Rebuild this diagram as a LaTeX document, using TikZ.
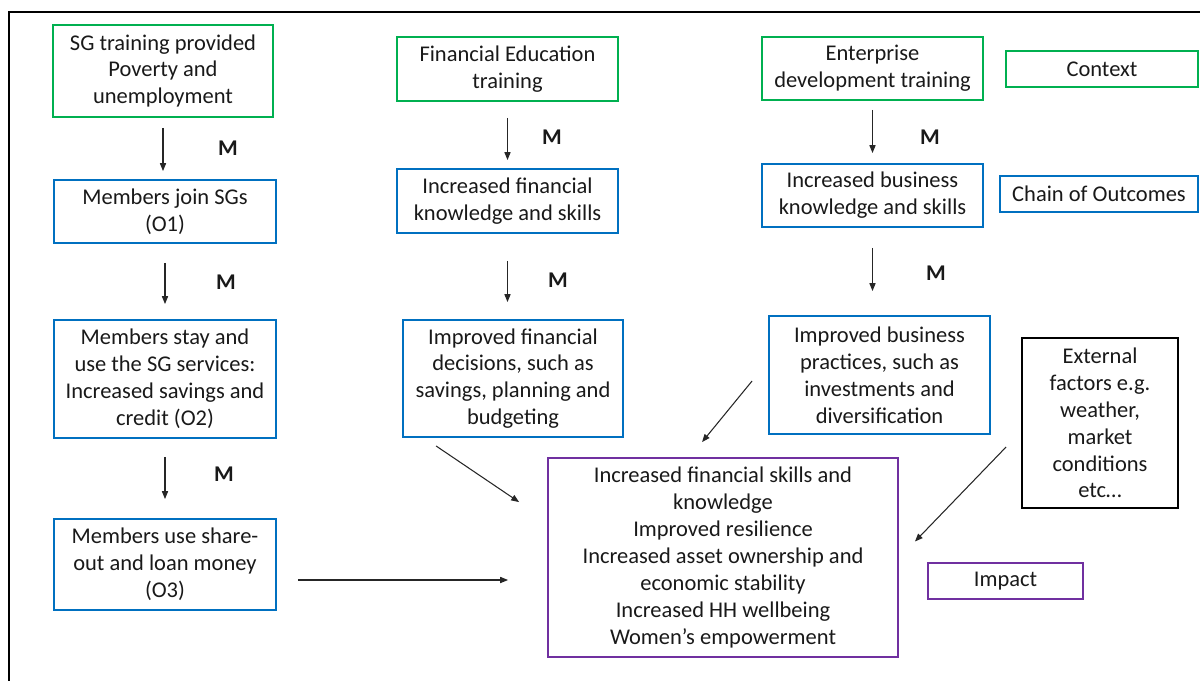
\documentclass[tikz,border=0pt]{standalone}
\usepackage{fontspec}
\setmainfont{Carlito}
\usepackage{tikz}
\usetikzlibrary{arrows.meta}

\definecolor{ctxgreen}{RGB}{0,176,80}
\definecolor{chainblue}{RGB}{0,112,192}
\definecolor{impactpurple}{RGB}{112,48,160}

\begin{document}
\begin{tikzpicture}[x=0.02cm,y=-0.02cm,
  box/.style={draw,line width=1.1pt,align=center,inner sep=2pt,text=black!90,
    font=\fontsize{12.8}{15.3}\selectfont},
  context/.style={box,draw=ctxgreen},
  outcome/.style={box,draw=chainblue},
  impact/.style={box,draw=impactpurple},
  link/.style={-{Triangle[length=4.5pt,width=3.5pt]},line width=0.6pt,black!85},
  mlabel/.style={font=\fontsize{12.8}{14}\selectfont\bfseries,text=black!90}]

\useasboundingbox (0,0) rectangle (1200,680);

% Frame
\draw[line width=1.1pt] (9,690) -- (9,12) -- (1210,12);

% Context boxes
\node[context,minimum width=4.4cm,minimum height=1.84cm] (sg) at (163,71)
  {SG training provided\\Poverty and\\unemployment};
\node[context,minimum width=4.42cm,minimum height=1.28cm] (fined) at (507.5,69)
  {Financial Education\\training};
\node[context,minimum width=4.42cm,minimum height=1.26cm] (ent) at (872.5,68.5)
  {Enterprise\\development training};

% Chain of outcomes
\node[outcome,minimum width=4.44cm,minimum height=1.26cm] (join) at (165,211.5)
  {Members join SGs\\(O1)};
\node[outcome,minimum width=4.44cm,minimum height=2.36cm] (stay) at (165,379)
  {Members stay and\\use the SG services:\\Increased savings and\\credit (O2)};
\node[outcome,minimum width=4.44cm,minimum height=1.82cm] (use) at (165,564.5)
  {Members use share-\\out and loan money\\(O3)};
\node[outcome,minimum width=4.42cm,minimum height=1.28cm] (finknow) at (507.5,201)
  {Increased financial\\knowledge and skills};
\node[outcome,minimum width=4.4cm,minimum height=2.34cm] (dec) at (513,378.5)
  {Improved financial\\decisions, such as\\savings, planning and\\budgeting};
\node[outcome,minimum width=4.42cm,minimum height=1.26cm] (busknow) at (872.5,195.5)
  {Increased business\\knowledge and skills};
\node[outcome,minimum width=4.42cm,minimum height=2.36cm] (prac) at (879.5,375)
  {Improved business\\practices, such as\\investments and\\diversification};

% Impact
\node[impact,minimum width=7cm,minimum height=3.98cm] (outcomes) at (723,557.5)
  {Increased financial skills and\\knowledge\\Improved resilience\\
   Increased asset ownership and\\economic stability\\
   Increased HH wellbeing\\Women’s empowerment};

% External factors
\node[box,minimum width=3.12cm,minimum height=3.4cm] (ext) at (1100,423)
  {External\\factors e.g.\\weather,\\market\\conditions\\etc…};

% Legend
\node[context,minimum width=3.84cm,minimum height=0.72cm] (ctx) at (1102,69) {Context};
\node[outcome,minimum width=3.96cm,minimum height=0.72cm] (chain) at (1099,194) {Chain of Outcomes};
\node[impact,minimum width=3.1cm,minimum height=0.72cm] (imp) at (1005.5,581) {Impact};

% Mechanism arrows
\draw[link,shorten <=0.2cm,shorten >=0.16cm] (sg.south) -- (sg.south |- join.north);
\draw[link,shorten <=0.38cm,shorten >=0.3cm] (join.south) -- (join.south |- stay.north);
\draw[link,shorten <=0.36cm,shorten >=0.38cm] (stay.south) -- (stay.south |- use.north);
\draw[link,shorten <=0.32cm,shorten >=0.16cm] (fined.south) -- (fined.south |- finknow.north);
\draw[link,shorten <=0.54cm,shorten >=0.34cm] (finknow.south) -- (finknow.south |- dec.north);
\draw[link,shorten <=0.18cm,shorten >=0.2cm] (ent.south) -- (ent.south |- busknow.north);
\draw[link,shorten <=0.4cm,shorten >=0.48cm] (busknow.south) -- (busknow.south |- prac.north);

\node[mlabel] (m1) at (228,148) {M};
\node[mlabel] (m2) at (226,282) {M};
\node[mlabel] (m3) at (224,474) {M};
\node[mlabel] (m4) at (552,137) {M};
\node[mlabel] (m5) at (558,280) {M};
\node[mlabel] (m6) at (930,137) {M};
\node[mlabel] (m7) at (936,273) {M};

% Into the impact box
\draw[link] ([shift={(34,8)}]dec.south west) -- ([shift={(-28,45)}]outcomes.north west);
\draw[link] ([shift={(-16,6)}]prac.west) -- ([shift={(155,-15)}]outcomes.north west);
\draw[link] ([shift={(-15,24)}]ext.west) -- ([shift={(16,-16)}]outcomes.east);
\path ([shift={(21,15.5)}]use.east) coordinate (h0);
\draw[link,shorten >=0.78cm] (h0) -- (h0 -| outcomes.west);

\end{tikzpicture}
\end{document}
